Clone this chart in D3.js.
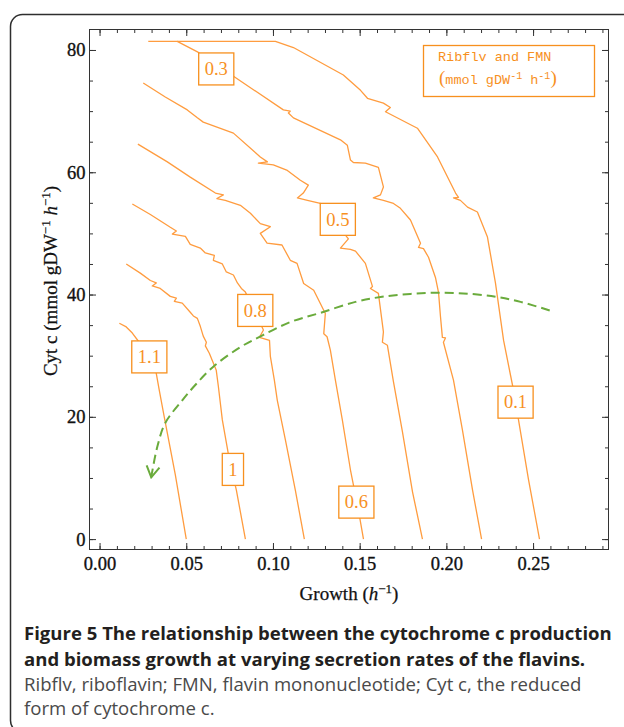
<!DOCTYPE html>
<html><head><meta charset="utf-8">
<script src="https://cdn.jsdelivr.net/npm/d3@7"></script>
<style>body{margin:0;background:#fff;} svg{display:block;}</style>
</head><body>
<svg id="c" width="624" height="727"></svg>
<script>
// ---------------- data ----------------
const xTicks = [0, 0.05, 0.10, 0.15, 0.20, 0.25];
const xTickLabels = ["0.00", "0.05", "0.10", "0.15", "0.20", "0.25"];
const yTicks = [0, 20, 40, 60, 80];
const yTickLabels = ["0", "20", "40", "60", "80"];

const levels = ["0.1", "0.3", "0.5", "0.6", "0.8", "1", "1.1"];

const curve_0_1 = [[0.0448,81.4],[0.1014,81.4],[0.1118,80.4],[0.1406,75.9],[0.1505,73.4],[0.1545,72.1],[0.1637,71.3],[0.1677,70.6],[0.1649,69.9],[0.1833,67.2],[0.1949,62.5],[0.2053,56.6],[0.2070,55.9],[0.2041,55.8],[0.2081,55.4],[0.2122,54.3],[0.2179,53.5],[0.2237,49.4],[0.2283,41.9],[0.2330,32.5],[0.2370,26.8],[0.2399,22.7],[0.2416,19.5],[0.2474,9.7],[0.2537,0]];
const curve_0_3 = [[0.0281,81.4],[0.0448,81.4],[0.0570,79.6],[0.0783,75.5],[0.1060,70.2],[0.1100,70.0],[0.1089,69.7],[0.1118,68.9],[0.1389,65.3],[0.1429,64.4],[0.1447,62.0],[0.1464,61.6],[0.1533,61.5],[0.1608,60.8],[0.1637,57.6],[0.1620,56.3],[0.1579,55.8],[0.1637,55.4],[0.1695,54.9],[0.1735,54.1],[0.1793,52.2],[0.1851,48.4],[0.1839,47.7],[0.1868,47.5],[0.1897,46.1],[0.1937,42.8],[0.1955,40.3],[0.1966,36.4],[0.1977,33.0],[0.1995,32.9],[0.1983,32.2],[0.2041,26.0],[0.2093,17.8],[0.2151,8.0],[0.2203,0]];
const curve_0_5 = [[0.0252,74.6],[0.0379,72.3],[0.0506,70.2],[0.0564,68.9],[0.0598,68.2],[0.0772,66.4],[0.0927,62.5],[0.0968,61.7],[0.0916,61.5],[0.1002,61.2],[0.1083,60.3],[0.1158,58.7],[0.1204,57.9],[0.1175,56.6],[0.1141,55.8],[0.1199,55.4],[0.1273,54.9],[0.1360,51.8],[0.1435,49.1],[0.1389,47.6],[0.1447,47.4],[0.1476,47.1],[0.1533,45.1],[0.1574,41.3],[0.1562,41.0],[0.1608,40.2],[0.1637,33.9],[0.1631,32.2],[0.1660,31.7],[0.1695,25.7],[0.1747,17.5],[0.1805,7.7],[0.1862,0]];
const curve_0_6 = [[0.0221,64.6],[0.0391,61.7],[0.0523,59.2],[0.0668,56.6],[0.0714,56.3],[0.0677,55.7],[0.0725,55.4],[0.0812,54.6],[0.0870,53.3],[0.0927,51.6],[0.0985,51.1],[0.0927,50.0],[0.0966,48.4],[0.1052,48.1],[0.1100,45.6],[0.1139,45.1],[0.1177,41.8],[0.1235,40.7],[0.1274,38.5],[0.1302,36.9],[0.1293,33.6],[0.1312,33.1],[0.1331,30.9],[0.1360,26.0],[0.1400,19.5],[0.1447,11.3],[0.1493,4.7],[0.1522,0]];
const curve_0_8 = [[0.0189,54.8],[0.0293,53.1],[0.0408,51.0],[0.0443,50.4],[0.0420,49.9],[0.0495,49.5],[0.0523,48.2],[0.0581,47.6],[0.0610,46.8],[0.0662,46.4],[0.0656,45.6],[0.0708,45.0],[0.0731,43.7],[0.0772,43.2],[0.0795,41.9],[0.0818,41.0],[0.0841,40.4],[0.0945,34.2],[0.0922,33.0],[0.0980,32.5],[0.0985,29.9],[0.1008,26.0],[0.1025,22.7],[0.1072,16.2],[0.1129,8.0],[0.1181,0]];
const curve_1 = [[0.0154,45.0],[0.0235,43.5],[0.0293,42.3],[0.0327,41.9],[0.0304,41.4],[0.0350,41.0],[0.0408,39.7],[0.0443,39.4],[0.0431,38.9],[0.0477,38.6],[0.0523,37.1],[0.0541,36.5],[0.0564,36.1],[0.0581,34.8],[0.0598,33.2],[0.0616,32.2],[0.0610,31.6],[0.0633,30.4],[0.0656,28.8],[0.0673,27.6],[0.0685,25.0],[0.0708,19.5],[0.0749,12.9],[0.0789,8.0],[0.0841,0]];
const curve_1_1 = [[0.0114,35.3],[0.0154,34.7],[0.0189,33.7],[0.0223,32.4],[0.0293,30.1],[0.0327,27.1],[0.0344,24.4],[0.0373,20.0],[0.0437,10.5],[0.0500,0]];

const curves = [curve_0_1, curve_0_3, curve_0_5, curve_0_6, curve_0_8, curve_1, curve_1_1];
const labelGrowth = [0.2399, 0.0673, 0.1374, 0.1481, 0.0898, 0.0769, 0.0287];
const labelCytc   = [22.4, 76.9, 52.3, 6.05, 37.4, 11.4, 29.8];

const optimumGrowth = [0.2596,0.2428,0.2294,0.2138,0.1966,0.1793,0.1620,0.1476,0.1273,0.1100,0.0945,0.0812,0.0656,0.0552,0.0477,0.0379,0.0333,0.0298];
const optimumCytc   = [37.4,38.8,39.6,40.1,40.3,40.1,39.6,38.8,37.0,35.5,33.4,31.4,28.2,25.2,22.7,19.0,15.1,10.1];

// ---------------- drawing ----------------
const svg = d3.select("#c");
const ORANGE = "#ff9c3f", ORANGE_T = "#f7901e", GREEN = "#6aab3c";
const serif = "'Liberation Serif','Times New Roman',serif";

const x = d3.scaleLinear().domain([-0.0058, 0.2935]).range([89.5, 608.5]);
const y = d3.scaleLinear().domain([-1.7, 83.35]).range([549.5, 29.5]);

// figure border
svg.append("rect").attr("x", 10.5).attr("y", 14.5).attr("width", 640).attr("height", 718)
  .attr("rx", 12).attr("fill", "none").attr("stroke", "#2e2e2e").attr("stroke-width", 1.5);

const minorX = d3.range(0, 30).map(i => i / 100);
const minorY = d3.range(0, 17).map(i => i * 5);

function styleAxis(g) {
  g.select(".domain").remove();
  g.selectAll(".tick line").attr("stroke", "#333").attr("stroke-width", 1);
  g.selectAll(".tick text").attr("fill", "#111").attr("stroke", "#111").attr("stroke-width", 0.35)
    .style("font-family", serif).style("font-size", "18.5px");
}
const [X0, X1] = x.range(), [Y0, Y1] = y.range();
// minor ticks
svg.append("g").attr("transform", `translate(0,${Y0})`).call(d3.axisBottom(x).tickValues(minorX).tickSize(-3.5).tickFormat("")).call(styleAxis);
svg.append("g").attr("transform", `translate(0,${Y1})`).call(d3.axisTop(x).tickValues(minorX).tickSize(-3.5).tickFormat("")).call(styleAxis);
svg.append("g").attr("transform", `translate(${X0},0)`).call(d3.axisLeft(y).tickValues(minorY).tickSize(-3.5).tickFormat("")).call(styleAxis);
svg.append("g").attr("transform", `translate(${X1},0)`).call(d3.axisRight(y).tickValues(minorY).tickSize(-3.5).tickFormat("")).call(styleAxis);
// major ticks
svg.append("g").attr("transform", `translate(0,${Y0})`).call(d3.axisBottom(x).tickValues(xTicks).tickSize(-6.5).tickPadding(7).tickFormat((d, i) => xTickLabels[i])).call(styleAxis);
svg.append("g").attr("transform", `translate(0,${Y1})`).call(d3.axisTop(x).tickValues(xTicks).tickSize(-6.5).tickFormat("")).call(styleAxis);
svg.append("g").attr("transform", `translate(${X0},0)`).call(d3.axisLeft(y).tickValues(yTicks).tickSize(-6.5).tickPadding(4).tickFormat((d, i) => yTickLabels[i])).call(styleAxis);
svg.append("g").attr("transform", `translate(${X1},0)`).call(d3.axisRight(y).tickValues(yTicks).tickSize(-6.5).tickFormat("")).call(styleAxis);
// frame
svg.append("rect").attr("x", X0).attr("y", Y1).attr("width", X1 - X0).attr("height", Y0 - Y1)
  .attr("fill", "none").attr("stroke", "#333").attr("stroke-width", 1);

// contour curves
const line = d3.line().x(d => x(d[0])).y(d => y(d[1]));
svg.append("g").selectAll("path").data(curves).join("path")
  .attr("d", line).attr("fill", "none").attr("stroke", ORANGE).attr("stroke-width", 1.3)
  .attr("stroke-linejoin", "round");

// green dashed arrow
const defs = svg.append("defs");
defs.append("marker").attr("id", "arr").attr("markerUnits", "userSpaceOnUse")
  .attr("viewBox", "-13 -8 15 16").attr("refX", 0).attr("refY", 0)
  .attr("markerWidth", 15).attr("markerHeight", 16).attr("orient", "auto")
  .append("path").attr("d", "M-11,-6.5L0,0L-11,6.5").attr("fill", "none")
  .attr("stroke", GREEN).attr("stroke-width", 2);
const opt = optimumGrowth.map((g, i) => [g, optimumCytc[i]]);
svg.append("path").datum(opt)
  .attr("d", d3.line().x(d => x(d[0])).y(d => y(d[1])).curve(d3.curveCatmullRom))
  .attr("fill", "none").attr("stroke", GREEN).attr("stroke-width", 2)
  .attr("stroke-dasharray", "9,5").attr("marker-end", "url(#arr)");

// contour labels
levels.forEach((lv, i) => {
  const g = svg.append("g").attr("transform", `translate(${x(labelGrowth[i])},${y(labelCytc[i])})`);
  const r = g.append("rect");
  const t = g.append("text").text(lv).attr("text-anchor", "middle").attr("dy", "0.34em")
    .attr("fill", ORANGE_T).style("font-family", serif).style("font-size", "18.5px");
  const w = t.node().getComputedTextLength() + 12;
  r.attr("x", -w / 2).attr("y", -16).attr("width", w).attr("height", 32)
    .attr("fill", "#fff").attr("stroke", ORANGE_T).attr("stroke-width", 1.3);
});

// legend box
const mono = "'Liberation Mono','Courier New',monospace";
svg.append("rect").attr("x", 423.5).attr("y", 45.5).attr("width", 171).attr("height", 51)
  .attr("fill", "#fff").attr("stroke", ORANGE_T).attr("stroke-width", 1.3);
svg.append("text").attr("x", 438).attr("y", 60.5).attr("fill", ORANGE_T)
  .style("font-family", mono).style("font-size", "13.5px").text("Ribflv and FMN");
const l2 = svg.append("text").attr("x", 439).attr("y", 84).attr("fill", ORANGE_T)
  .style("font-family", mono).style("font-size", "13.5px");
l2.append("tspan").style("font-size", "19px").style("font-family", serif).attr("font-weight", 200).text("(");
l2.append("tspan").text("mmol gDW");
l2.append("tspan").attr("dy", -5).style("font-size", "10px").text("-1");
l2.append("tspan").attr("dy", 5).text(" h");
l2.append("tspan").attr("dy", -5).style("font-size", "10px").text("-1");
l2.append("tspan").attr("dy", 5).style("font-size", "19px").style("font-family", serif).text(")");

// axis titles
const xt = svg.append("text").attr("x", (X0 + X1) / 2).attr("y", 600).attr("text-anchor", "middle")
  .attr("fill", "#111").attr("stroke", "#111").attr("stroke-width", 0.25)
  .style("font-family", serif).style("font-size", "19px");
xt.append("tspan").text("Growth (");
xt.append("tspan").style("font-style", "italic").text("h");
xt.append("tspan").attr("dy", -7).style("font-size", "13px").text("\u22121");
xt.append("tspan").attr("dy", 7).text(")");

const yt = svg.append("text").attr("transform", "translate(57,281) rotate(-90)").attr("text-anchor", "middle")
  .attr("fill", "#111").attr("stroke", "#111").attr("stroke-width", 0.25)
  .style("font-family", serif).style("font-size", "19px");
yt.append("tspan").text("Cyt c (mmol gDW");
yt.append("tspan").attr("dy", -7).style("font-size", "13px").text("\u22121");
yt.append("tspan").attr("dy", 7).text(" ");
yt.append("tspan").style("font-style", "italic").text("h");
yt.append("tspan").attr("dy", -7).style("font-size", "13px").text("\u22121");
yt.append("tspan").attr("dy", 7).text(")");

// caption
const sans = "'Open Sans','Noto Sans',sans-serif";
const capLines = [
  {t: "Figure 5 The relationship between the cytochrome c production", b: true, y: 640, w: 588},
  {t: "and biomass growth at varying secretion rates of the flavins.", b: true, y: 666, w: null},
  {t: "Ribflv, riboflavin; FMN, flavin mononucleotide; Cyt c, the reduced", b: false, y: 691, w: 558},
  {t: "form of cytochrome c.", b: false, y: 715, w: null}
];
let boldSize = 19, regSize = 18;
capLines.forEach(c => {
  const t = svg.append("text").attr("x", 24).attr("y", c.y).text(c.t)
    .attr("fill", c.b ? "#231f20" : "#4a4a4a").style("font-family", sans)
    .style("font-weight", c.b ? 700 : 400);
  c.sel = t;
});
// fit sizes to measured widths
[[0, true], [2, false]].forEach(([i, b]) => {
  const t = capLines[i].sel.style("font-size", "20px");
  const w = t.node().getComputedTextLength();
  const s = 20 * capLines[i].w / w;
  if (b) boldSize = s; else regSize = s;
});
capLines.forEach(c => c.sel.style("font-size", (c.b ? boldSize : regSize) + "px"));
</script>
</body></html>
